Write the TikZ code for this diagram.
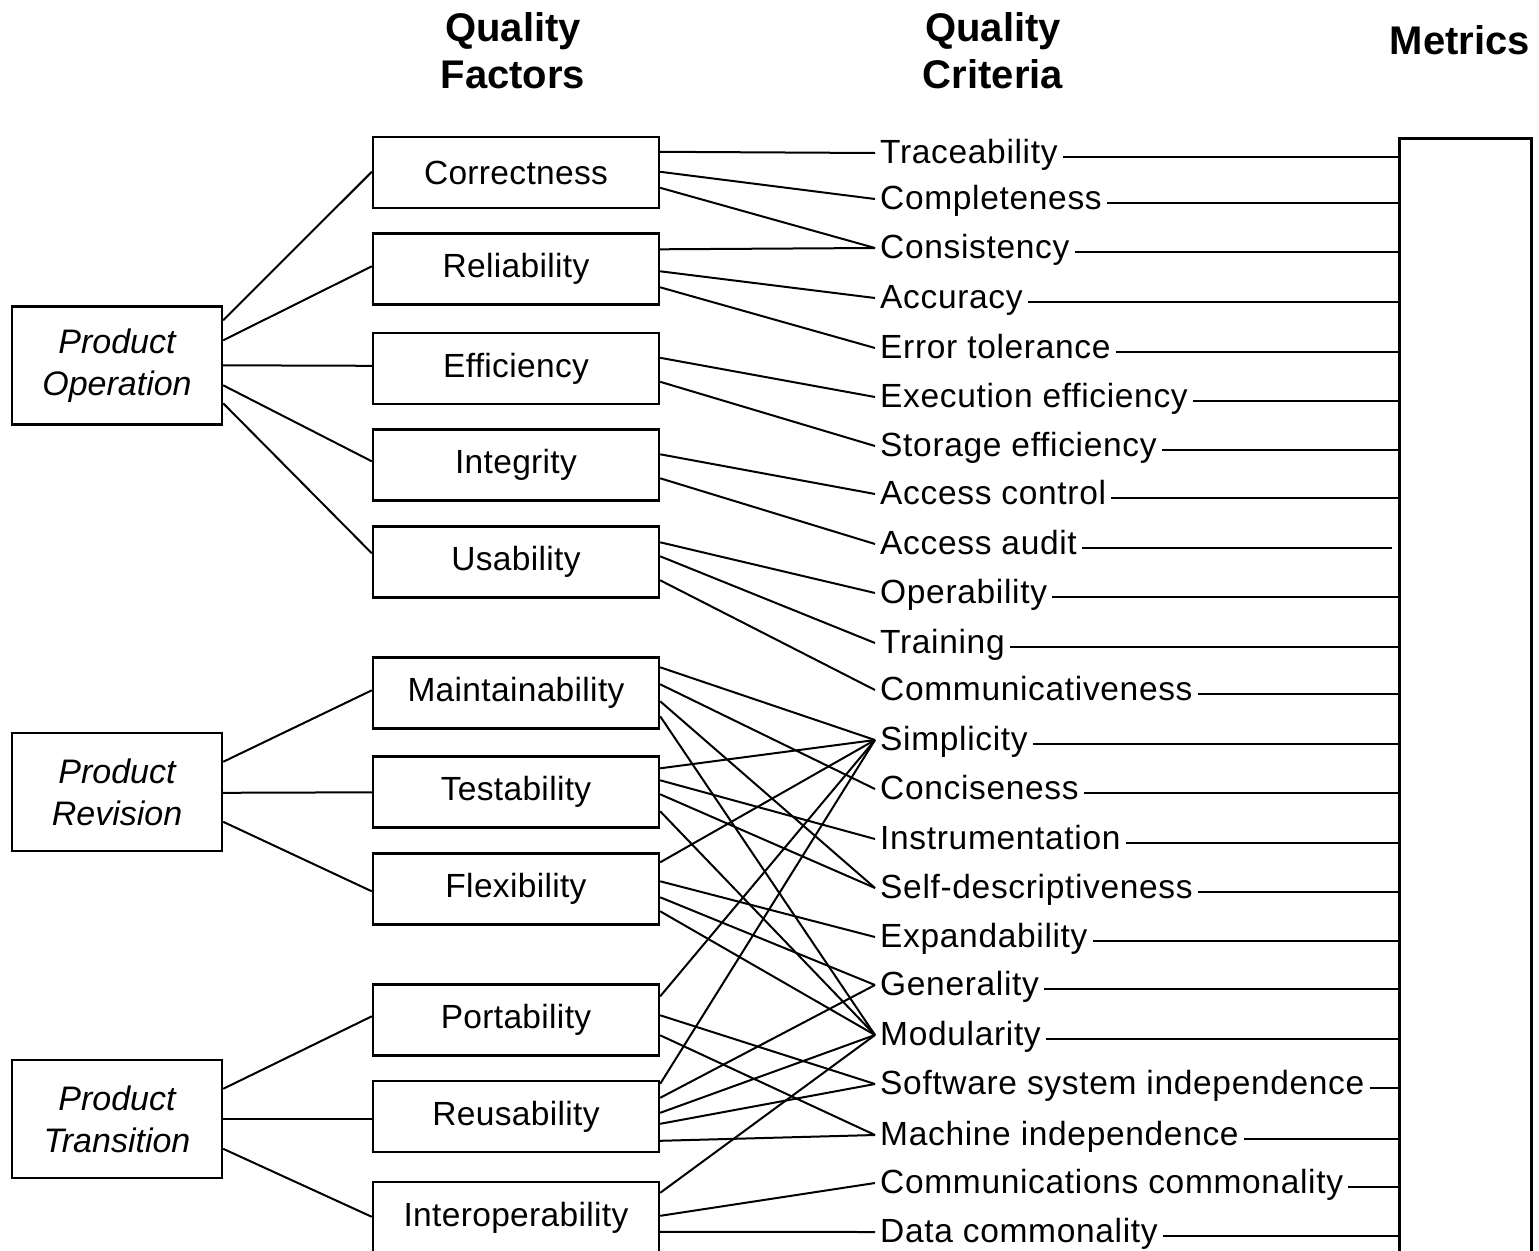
\documentclass[tikz,border=0pt]{standalone}
\usepackage{fontspec}
\setmainfont{Liberation Sans}
\newfontfamily\critfont[LetterSpace=2.0]{Liberation Sans}
\newfontfamily\factfont[LetterSpace=1.0]{Liberation Sans}
\usetikzlibrary{calc}
\begin{document}
\begin{tikzpicture}[x=1pt,y=-1pt,
  link/.style={line width=2pt},
  factor/.style={draw, line width=2.4pt, minimum width=286pt, minimum height=71pt,
    inner sep=0pt, font=\factfont\fontsize{33.5}{40}\selectfont},
  group/.style={draw, line width=2.4pt, minimum width=210pt, minimum height=118pt,
    inner sep=0pt, align=center, font=\fontsize{34}{42}\selectfont\itshape},
  crit/.style={anchor=west, inner xsep=5pt, inner ysep=0pt, text height=24pt,
    text depth=4pt, font=\critfont\fontsize{33.5}{40}\selectfont},
  head/.style={align=center, inner sep=0pt, font=\fontsize{40}{47}\selectfont\bfseries},
]
\useasboundingbox (0,0) rectangle (1539,1250);

% column headings
\node[head] (hfac) at (513,51) {Quality\\Factors};
\node[head] (hcrit) at (993,51) {Quality\\Criteria};
\node[head] (hmet) at (1460,40) {Metrics};

% metrics column (runs off the bottom)
\node[draw, line width=2.5pt, minimum width=132pt, minimum height=1140pt,
  anchor=north west, inner sep=0pt] (mbox) at (1398,137) {};

% product views
\node[group] (po) at (117,365.5) {Product\\Operation};
\node[group] (pr) at (117,792) {Product\\Revision};
\node[group] (pt) at (117,1119) {Product\\Transition};

% quality factors
\foreach \n/\t/\y in {f1/Correctness/172.5, f2/Reliability/269, f3/Efficiency/368.5,
  f4/Integrity/465, f5/Usability/562, f6/Maintainability/693, f7/Testability/792,
  f8/Flexibility/889, f9/Portability/1020, f10/Reusability/1116.5,
  f11/Interoperability/1217.5}
  \node[factor] (\n) at (516,\y) {\t};

% quality criteria
\foreach \i/\t/\y in {1/Traceability/153, 2/Completeness/199, 3/Consistency/248,
  4/Accuracy/298, 5/Error tolerance/348, 6/Execution efficiency/397,
  7/Storage efficiency/446, 8/Access control/494, 9/Access audit/544,
  10/Operability/593, 11/Training/643, 12/Communicativeness/690,
  13/Simplicity/740, 14/Conciseness/789, 15/Instrumentation/839,
  16/Self-descriptiveness/888, 17/Expandability/937, 18/Generality/985,
  19/Modularity/1035, 20/Software system independence/1084,
  21/Machine independence/1135, 22/Communications commonality/1183,
  23/Data commonality/1232}
  \node[crit] (c\i) at (875,\y) {\t};

% views to factors
\foreach \g/\d/\f/\e in {po/15/f1/36, po/35/f2/34, po/60/f3/34, po/80/f4/33,
  po/98/f5/28, pr/30/f6/34, pr/61/f7/37, pr/90/f8/39,
  pt/30/f9/33, pt/60/f10/39, pt/90/f11/36}
  \draw[link] ($(\g.north east)+(0,\d)$) -- ($(\f.north west)+(0,\e)$);

% factors to criteria
\foreach \f/\d/\c in {f1/16/1, f1/36/2, f1/52/3,
  f2/17/3, f2/39/4, f2/55/5,
  f3/26/6, f3/50/7,
  f4/26/8, f4/50/9,
  f5/17/10, f5/31/11, f5/55/12,
  f6/11/13, f6/28/14, f6/45/16, f6/60/19,
  f7/13/13, f7/25/15, f7/39/16, f7/56/19,
  f8/10/13, f8/29/17, f8/45/18, f8/59/19,
  f9/13/13, f9/32/20, f9/52/21,
  f10/4/13, f10/18/18, f10/33/19, f10/44/20, f10/61/21,
  f11/12/19, f11/35/22, f11/51/23}
  \draw[link] ($(\f.north east)+(0,\d)$) -- (c\c.west);

% criteria to metrics
\foreach \i/\s in {1/0, 2/0, 3/0, 4/0, 5/0, 6/0, 7/0, 8/0, 9/6, 10/0, 11/0, 12/0,
  13/0, 14/0, 15/0, 16/0, 17/0, 18/0, 19/0, 20/0, 21/0, 22/0, 23/0} {
  \path ([yshift=-4pt]c\i.east) coordinate (r\i);
  \draw[link, shorten >=\s pt] (r\i) -- (r\i -| mbox.west);
}
\end{tikzpicture}
\end{document}
